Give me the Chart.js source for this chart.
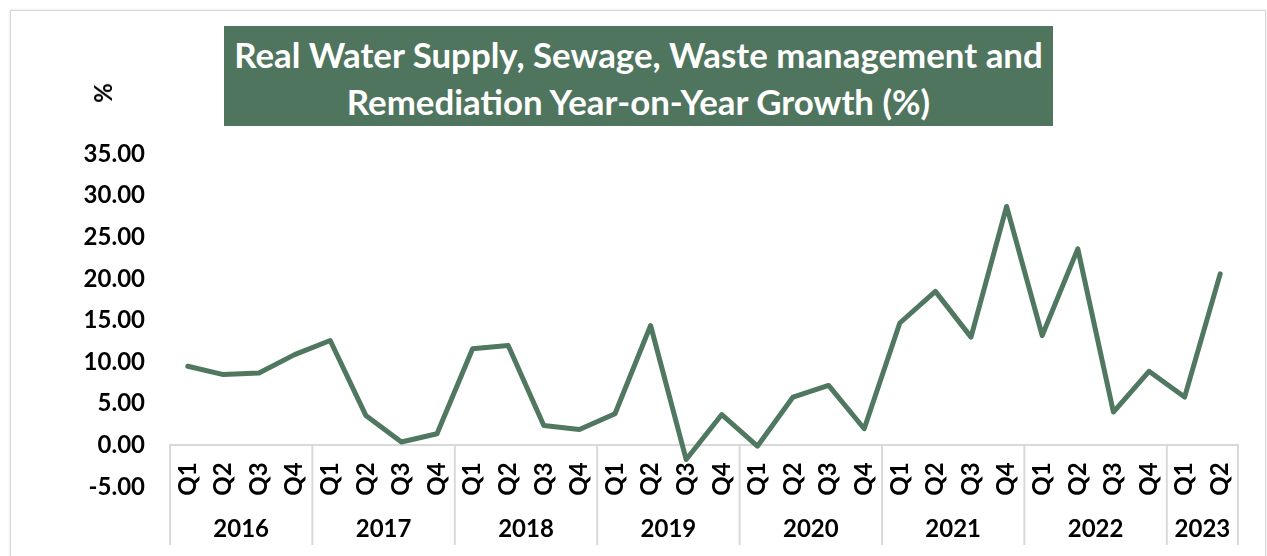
<!DOCTYPE html>
<html><head><meta charset="utf-8">
<script src="https://cdn.jsdelivr.net/npm/chart.js@4"></script>
<style>
html,body{margin:0;padding:0;background:#fff;}
#wrap{position:relative;width:1267px;height:556px;overflow:hidden;background:#fff;}
#frame{position:absolute;left:10px;top:10px;width:1254px;height:600px;border:1.5px solid #d6d6d6;box-shadow:0 0 3px rgba(0,0,0,0.12);}
#chartBox{position:absolute;left:0;top:0;width:1267px;height:556px;}
#title{position:absolute;left:224px;top:26px;width:829px;height:100px;background:#50755E;}
.tl{position:absolute;left:0;width:100%;text-align:center;color:#fff;font-family:Lato,'Open Sans',sans-serif;font-weight:700;white-space:nowrap;line-height:1;}
#pct{position:absolute;left:103px;top:93px;font-family:Lato,sans-serif;font-weight:700;font-size:24px;color:#000;transform:translate(-50%,-50%) rotate(-90deg);line-height:1;}
</style></head>
<body>
<div id="wrap">
  <div id="frame"></div>
  <div id="chartBox"><canvas id="c"></canvas></div>
  <div id="title"><div class="tl" id="t1"></div><div class="tl" id="t2"></div></div>
  <div id="pct">%</div>
</div>
<script>
const titleLines = ['Real Water Supply, Sewage, Waste management and', 'Remediation Year-on-Year Growth (%)'];
const quarterLabels = ['Q1','Q2','Q3','Q4','Q1','Q2','Q3','Q4','Q1','Q2','Q3','Q4','Q1','Q2','Q3','Q4','Q1','Q2','Q3','Q4','Q1','Q2','Q3','Q4','Q1','Q2','Q3','Q4','Q1','Q2'];
const years = ['2016','2017','2018','2019','2020','2021','2022','2023'];
const quartersPerYear = [4,4,4,4,4,4,4,2];
const growth = [9.5, 8.5, 8.7, 10.9, 12.6, 3.6, 0.4, 1.4, 11.6, 12.0, 2.4, 1.9, 3.8, 14.4, -1.7, 3.7, -0.1, 5.8, 7.2, 2.0, 14.7, 18.5, 13.0, 28.7, 13.2, 23.6, 4.0, 8.9, 5.8, 20.6];
const yTicks = [-5, 0, 5, 10, 15, 20, 25, 30, 35];

// Title text fitting
(function(){
  const cv = document.createElement('canvas').getContext('2d');
  cv.font = '700 100px Lato';
  const w1 = cv.measureText(titleLines[0]).width;
  const size = 100 * 810 / w1;
  const t1 = document.getElementById('t1'), t2 = document.getElementById('t2');
  t1.textContent = titleLines[0]; t2.textContent = titleLines[1];
  [t1,t2].forEach(t => t.style.fontSize = size + 'px');
  t1.style.top = (29 - size/2) + 'px';
  t2.style.top = (76 - size/2) + 'px';
})();

const FONT = {family: 'Lato', weight: 'bold', size: 24};
const GREEN = '#50775F';
const GRAY = '#d9d9d9';

const yearPlugin = {
  id: 'yearGroups',
  afterDraw(chart) {
    const ctx = chart.ctx, xs = chart.scales.x, ys = chart.scales.y, ca = chart.chartArea;
    const y0 = ys.getPixelForValue(0);
    const yb = chart.height - 11;
    const n = quarterLabels.length;
    ctx.save();
    ctx.strokeStyle = GRAY; ctx.lineWidth = 2;
    ctx.fillStyle = '#000';
    ctx.font = 'bold 24px Lato';
    ctx.textAlign = 'center'; ctx.textBaseline = 'middle';
    let start = 0;
    const edge = i => i <= 0 ? ca.left : (i >= n ? ca.right : (xs.getPixelForValue(i-1) + xs.getPixelForValue(i)) / 2);
    years.forEach((yr, g) => {
      const end = start + quartersPerYear[g];
      const l = edge(start), r = edge(end);
      ctx.beginPath(); ctx.moveTo(l, y0); ctx.lineTo(l, yb); ctx.stroke();
      if (end >= n) { ctx.beginPath(); ctx.moveTo(r, y0); ctx.lineTo(r, yb); ctx.stroke(); }
      ctx.fillText(yr, (l + r) / 2, yb - 16);
      start = end;
    });
    ctx.restore();
  }
};

new Chart(document.getElementById('c'), {
  type: 'line',
  data: {
    labels: quarterLabels,
    datasets: [{
      data: growth,
      borderColor: GREEN,
      borderWidth: 5,
      pointRadius: 0,
      tension: 0,
      borderJoinStyle: 'round',
      borderCapStyle: 'round',
      fill: false
    }]
  },
  options: {
    responsive: true,
    maintainAspectRatio: false,
    animation: false,
    layout: {padding: {left: 0, right: 29, top: 154, bottom: 69}},
    plugins: {legend: {display: false}, title: {display: false}, tooltip: {enabled: false}},
    scales: {
      x: {
        type: 'category',
        offset: true,
        position: {y: 0},
        grid: {display: false, drawTicks: false, tickLength: 0},
        border: {display: true, color: GRAY, width: 2},
        ticks: {color: '#000', font: FONT, minRotation: 90, maxRotation: 90, autoSkip: false, padding: 17}
      },
      y: {
        min: -5, max: 35,
        afterBuildTicks: s => { s.ticks = yTicks.map(v => ({value: v})); },
        afterFit: s => { s.width = 170; },
        grid: {display: false, drawTicks: false, tickLength: 0},
        border: {display: false},
        ticks: {color: '#000', font: FONT, padding: 25, callback: v => Number(v).toFixed(2)}
      }
    }
  },
  plugins: [yearPlugin]
});
</script>
</body></html>
